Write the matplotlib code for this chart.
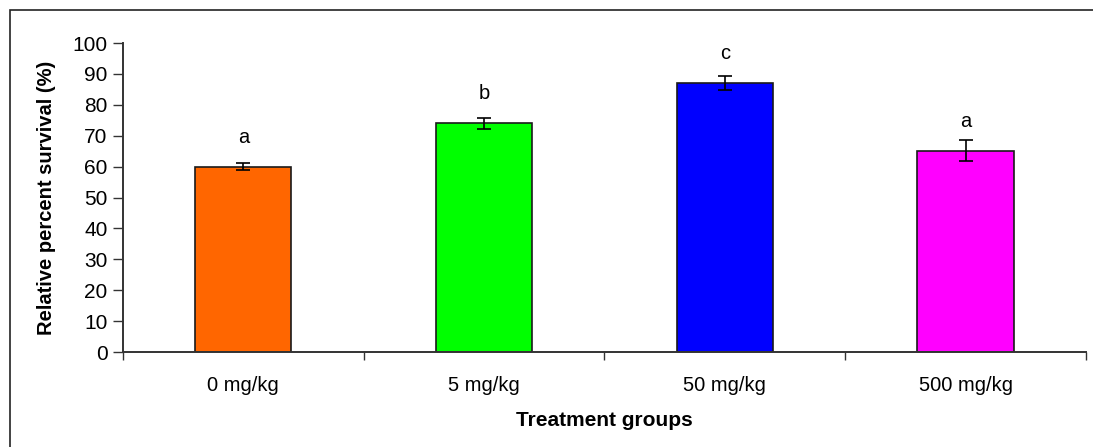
import matplotlib.pyplot as plt
from matplotlib.patches import Rectangle
import numpy as np

plt.rcParams['font.family'] = ['Liberation Sans', 'DejaVu Sans']

groups = ['0 mg/kg', '5 mg/kg', '50 mg/kg', '500 mg/kg']
survival = [60, 74, 87, 65.2]
errors = [1.1, 1.8, 2.2, 3.3]
letters = ['a', 'b', 'c', 'a']
colors = ['#FF6600', '#00FF00', '#0000FF', '#FF00FF']

fig = plt.figure(figsize=(10.93, 4.47), dpi=100)
ax = fig.add_axes([0.1125, 0.2125, 0.8811, 0.6913])

x = np.arange(len(groups)) + 0.5
ax.bar(x, survival, width=0.4, color=colors, edgecolor='#1a1a1a', linewidth=1.2,
       yerr=errors, error_kw=dict(ecolor='black', elinewidth=1.2, capsize=5, capthick=1.2))
for xi, v, lab in zip(x, survival, letters):
    ax.text(xi, v + 9.5, lab, ha='center', va='center', fontsize=14.5)

ax.set_xlim(0, 4)
ax.set_ylim(0, 100)
ax.set_yticks(range(0, 101, 10))
ax.set_xticks(range(0, 5))
ax.set_xticklabels([])
ax.set_xticks(x, minor=True)
ax.set_xticklabels(groups, minor=True)
ax.tick_params(axis='x', which='major', direction='out', length=6, width=1, color='#333333')
ax.tick_params(axis='x', which='minor', length=0, pad=17, labelsize=14.5)
ax.tick_params(axis='y', direction='out', length=7, width=1, color='#333333', pad=4, labelsize=15)

for s in ['top', 'right']:
    ax.spines[s].set_visible(False)
for s in ['left', 'bottom']:
    ax.spines[s].set_color('#333333')
    ax.spines[s].set_linewidth(1.4)

ax.set_ylabel('Relative percent survival (%)', fontsize=14.5, fontweight='bold')
ax.yaxis.set_label_coords(-0.0696, 0.5)
ax.set_xlabel('Treatment groups', fontsize=15, fontweight='bold')
ax.xaxis.set_label_coords(0.5, -0.19)

fig.patches.append(Rectangle((10 / 1093, -0.1), 1.2, 1.1 - 10 / 447, transform=fig.transFigure,
                             fill=False, edgecolor='#222222', linewidth=1.2))

fig.savefig('out.png', dpi=100)
